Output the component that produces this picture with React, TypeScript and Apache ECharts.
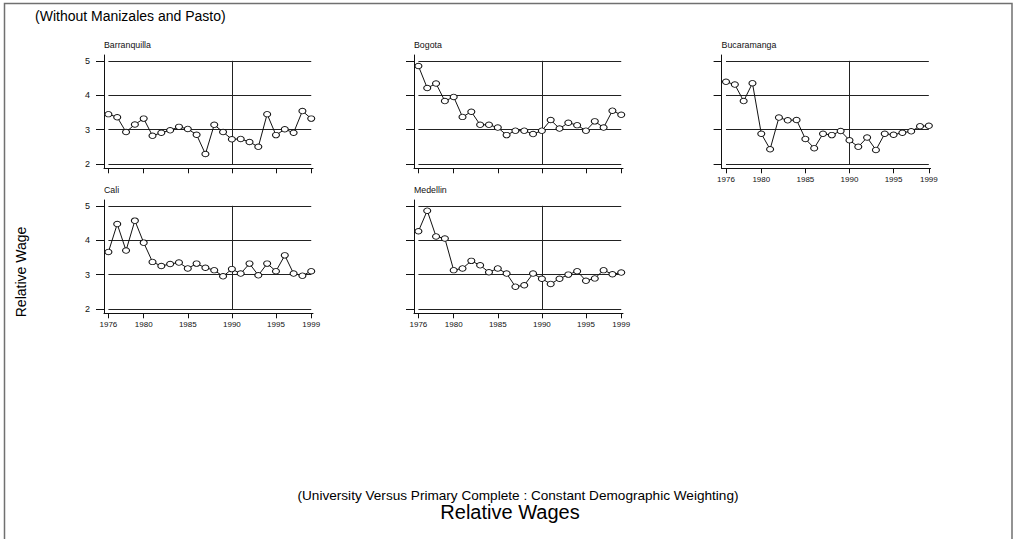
import React, { useEffect, useRef } from "react";
import * as echarts from "echarts";

const years = [1976, 1977, 1978, 1979, 1980, 1981, 1982, 1983, 1984, 1985, 1986, 1987, 1988, 1989, 1990, 1991, 1992, 1993, 1994, 1995, 1996, 1997, 1998, 1999];

const barranquilla = [3.45, 3.36, 2.93, 3.15, 3.32, 2.82, 2.91, 2.98, 3.08, 3.02, 2.85, 2.29, 3.14, 2.93, 2.72, 2.73, 2.64, 2.5, 3.45, 2.84, 3.01, 2.91, 3.54, 3.32];
const bogota = [4.85, 4.21, 4.34, 3.83, 3.95, 3.37, 3.52, 3.14, 3.14, 3.06, 2.84, 2.97, 2.97, 2.87, 2.97, 3.28, 3.03, 3.2, 3.13, 2.97, 3.24, 3.06, 3.55, 3.43];
const bucaramanga = [4.39, 4.31, 3.83, 4.35, 2.88, 2.43, 3.35, 3.27, 3.28, 2.73, 2.46, 2.88, 2.84, 2.96, 2.69, 2.5, 2.77, 2.41, 2.88, 2.85, 2.91, 2.95, 3.1, 3.11];
const cali = [3.66, 4.47, 3.7, 4.57, 3.93, 3.37, 3.25, 3.31, 3.35, 3.18, 3.32, 3.2, 3.13, 2.95, 3.16, 3.03, 3.32, 2.98, 3.32, 3.1, 3.56, 3.03, 2.97, 3.1];
const medellin = [4.26, 4.86, 4.11, 4.05, 3.13, 3.18, 3.4, 3.27, 3.07, 3.18, 3.03, 2.65, 2.69, 3.03, 2.88, 2.73, 2.88, 3.0, 3.1, 2.82, 2.89, 3.13, 3.01, 3.06];

const cities = ["Barranquilla", "Bogota", "Bucaramanga", "Cali", "Medellin"];
const cityValues = [barranquilla, bogota, bucaramanga, cali, medellin];

const xTicks = [1976, 1980, 1985, 1990, 1995, 1999];
const yTicks = [2, 3, 4, 5];
const refYear = 1990;

const FONT = "'Liberation Sans', Arial, sans-serif";

// layout: [left, top, showXLabels, showYLabels]
const panels: [number, number, boolean, boolean][] = [
  [104, 55, false, true],
  [414, 55, false, false],
  [721.6, 55, true, false],
  [104, 200, true, true],
  [414, 200, true, false],
];
const GW = 209;
const GH = 113.3;

export default function App() {
  const ref = useRef<HTMLDivElement>(null);
  useEffect(() => {
    if (!ref.current) return;
    const chart = echarts.init(ref.current, null, { renderer: "svg" });
    const grids: any[] = [];
    const xAxes: any[] = [];
    const yAxes: any[] = [];
    const series: any[] = [];
    const graphics: any[] = [];
    const first = years[0];
    const last = years[years.length - 1];
    const yMin = yTicks[0];
    const yMax = yTicks[yTicks.length - 1];

    panels.forEach(([left, top, showX, showY], i) => {
      grids.push({ left, top, width: GW, height: GH });
      xAxes.push({
        type: "value",
        gridIndex: i,
        min: 1975.5,
        max: 1999.2,
        axisLine: { show: true, lineStyle: { color: "#111", width: 1 } },
        axisTick: { show: true, customValues: xTicks, length: 5, lineStyle: { color: "#111", width: 1 } },
        axisLabel: {
          show: showX,
          customValues: xTicks,
          formatter: (v: number) => String(v),
          fontSize: 8,
          fontFamily: FONT,
          color: "#111",
          margin: 7,
        },
        splitLine: { show: false },
      });
      yAxes.push({
        type: "value",
        gridIndex: i,
        min: 1.875,
        max: 5.17,
        axisLine: { show: true, lineStyle: { color: "#111", width: 1 } },
        axisTick: { show: true, customValues: yTicks, length: 8, lineStyle: { color: "#111", width: 1 } },
        axisLabel: {
          show: showY,
          customValues: yTicks,
          formatter: (v: number) => String(v),
          fontSize: 9,
          fontFamily: FONT,
          color: "#111",
          margin: 14,
        },
        splitLine: { show: false },
      });
      const markData: any[] = yTicks.map((v) => [{ coord: [first, v] }, { coord: [last, v] }]);
      markData.push([{ coord: [refYear, yMin] }, { coord: [refYear, yMax] }]);
      series.push({
        type: "line",
        xAxisIndex: i,
        yAxisIndex: i,
        data: years.map((y, k) => [y, cityValues[i][k]]),
        symbol: "circle",
        symbolSize: [7, 5.5],
        showSymbol: true,
        lineStyle: { color: "#111", width: 1 },
        itemStyle: { color: "#fff", borderColor: "#111", borderWidth: 1 },
        z: 3,
        markLine: {
          silent: true,
          symbol: "none",
          label: { show: false },
          lineStyle: { color: "#222", width: 1, type: "solid" },
          data: markData,
          z: 1,
        },
      });
      graphics.push({
        type: "text",
        x: left,
        y: top - 10,
        style: {
          text: cities[i],
          font: `8.8px ${FONT}`,
          fill: "#111",
          textVerticalAlign: "middle",
        },
      });
    });

    graphics.push(
      {
        type: "rect",
        shape: { x: 4.5, y: 3.5, width: 1007.5, height: 600 },
        style: { fill: "none", stroke: "#707070", lineWidth: 1.5 },
      },
      {
        type: "text",
        x: 35,
        y: 16,
        style: {
          text: "(Without Manizales and Pasto)",
          font: `14px ${FONT}`,
          fill: "#000",
          textVerticalAlign: "middle",
        },
      },
      {
        type: "text",
        x: 518,
        y: 495,
        style: {
          text: "(University Versus Primary Complete : Constant Demographic Weighting)",
          font: `13.6px ${FONT}`,
          fill: "#000",
          textAlign: "center",
          textVerticalAlign: "middle",
        },
      },
      {
        type: "text",
        x: 510,
        y: 512,
        style: {
          text: "Relative Wages",
          font: `20px ${FONT}`,
          fill: "#000",
          textAlign: "center",
          textVerticalAlign: "middle",
        },
      },
      {
        type: "text",
        x: 21,
        y: 272,
        rotation: Math.PI / 2,
        style: {
          text: "Relative Wage",
          font: `14px ${FONT}`,
          fill: "#000",
          textAlign: "center",
          textVerticalAlign: "middle",
        },
      }
    );

    chart.setOption({
      animation: false,
      backgroundColor: "#fff",
      grid: grids,
      xAxis: xAxes,
      yAxis: yAxes,
      series,
      graphic: graphics,
    });
    return () => chart.dispose();
  }, []);
  return (
    <div
      ref={ref}
      style={{ position: "absolute", left: 0, top: 0, width: 1013, height: 539 }}
    />
  );
}
